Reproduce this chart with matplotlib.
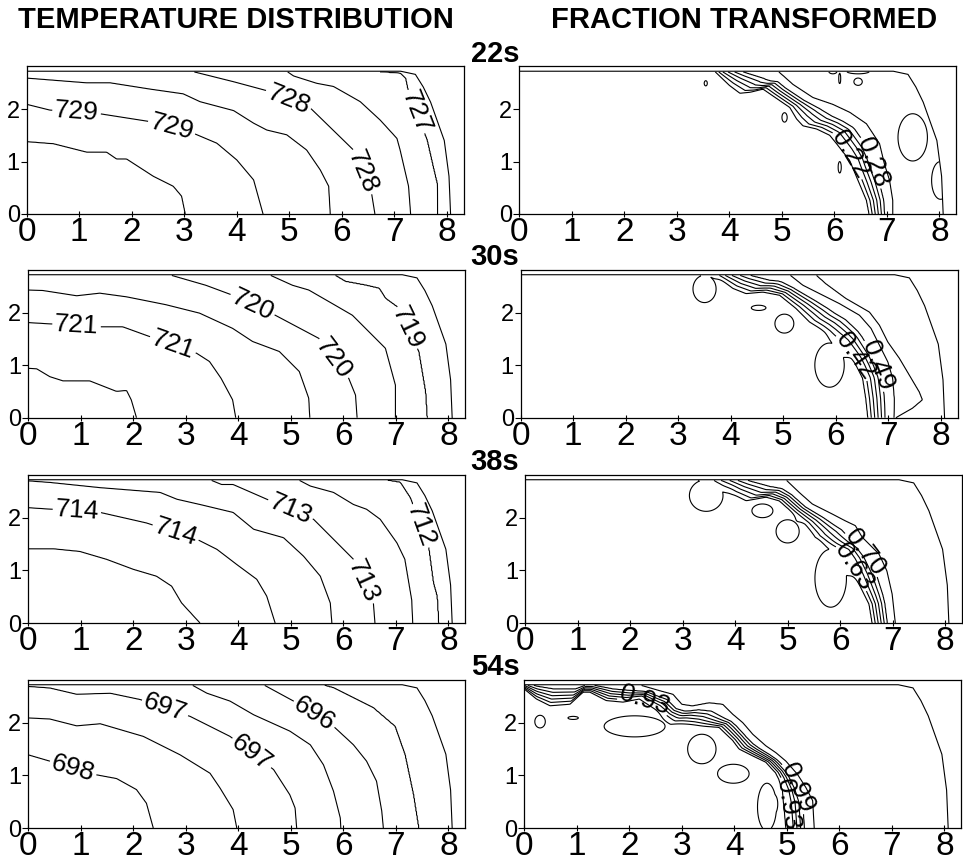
import numpy as np
import matplotlib
matplotlib.use("Agg")
import matplotlib.pyplot as plt
from matplotlib import font_manager

# ---- geometry of the specimen outline (same in every panel) ----
OUT_X = [0.0, 7.12, 7.40, 7.55, 7.69, 7.95, 8.04, 8.07]
OUT_Y = [2.72, 2.72, 2.66, 2.42, 2.13, 1.40, 0.72, 0.0]

T22_LEVELS = [729.5, 729.0, 728.5, 728.0, 727.5, 727.0]
T22_X = [[0, 0.51, 1.14, 1.52, 1.71, 1.90, 2.41, 2.79, 2.95, 3.02],
         [0, 0.44, 1.33, 2.35, 3.17, 3.62, 4.00, 4.32, 4.50],
         [0, 1.14, 1.59, 2.35, 2.98, 3.30, 3.94, 4.32, 4.57, 4.95, 5.33, 5.59, 5.75, 5.78],
         [3.14, 3.94, 4.57, 5.40, 6.22, 6.57, 6.63],
         [4.95, 5.08, 5.52, 5.84, 6.35, 6.73, 7.05, 7.11, 7.27, 7.31],
         [6.54, 7.11, 7.21, 7.27, 7.62, 7.75, 7.81, 7.82]]
T22_Y = [[1.38, 1.34, 1.18, 1.18, 1.05, 1.05, 0.72, 0.53, 0.34, 0],
         [2.09, 1.98, 1.92, 1.76, 1.54, 1.35, 1.03, 0.65, 0],
         [2.59, 2.50, 2.50, 2.38, 2.29, 2.14, 1.97, 1.73, 1.60, 1.51, 1.22, 0.84, 0.53, 0],
         [2.72, 2.52, 2.35, 2.02, 1.22, 0.37, 0],
         [2.72, 2.63, 2.49, 2.43, 2.14, 1.79, 1.44, 1.22, 0.53, 0],
         [2.72, 2.68, 2.59, 2.30, 1.41, 0.84, 0.59, 0]]
T22_LABELS = [727.0, 728.0, 729.0]
T22_LABPOS = [(0.95, 1.95), (2.76, 1.65), (4.98, 2.17), (6.41, 0.81), (7.43, 1.95)]

T30_LEVELS = [721.5, 721.0, 720.5, 720.0, 719.5, 719.0]
T30_X = [[0, 0.16, 0.41, 0.66, 1.17, 1.68, 1.87, 1.96, 2.06],
         [0, 1.36, 1.80, 2.24, 3.20, 3.45, 3.67, 3.89, 3.95],
         [0, 0.28, 0.92, 1.36, 1.87, 2.62, 3.26, 3.89, 4.27, 4.78, 5.16, 5.34, 5.36],
         [2.69, 3.38, 3.89, 4.70, 5.53, 6.10, 6.23, 6.26],
         [4.59, 5.03, 5.34, 5.79, 6.17, 6.42, 6.80, 6.99, 6.99],
         [5.82, 6.04, 6.42, 6.68, 6.80, 7.02, 7.43, 7.56, 7.59]]
T30_Y = [[0.94, 0.93, 0.78, 0.70, 0.70, 0.50, 0.52, 0.34, 0],
         [1.81, 1.73, 1.73, 1.57, 1.23, 1.07, 0.75, 0.34, 0],
         [2.43, 2.42, 2.32, 2.37, 2.30, 2.15, 1.99, 1.70, 1.45, 1.26, 0.88, 0.37, 0],
         [2.72, 2.52, 2.33, 1.95, 1.51, 0.75, 0.43, 0],
         [2.72, 2.52, 2.43, 2.17, 1.95, 1.70, 1.32, 0.62, 0],
         [2.72, 2.59, 2.52, 2.46, 2.27, 2.11, 1.26, 0.49, 0]]
T30_LABELS = [719.0, 720.0, 721.0]
T30_LABPOS = [(0.92, 1.77), (2.75, 1.38), (4.27, 2.15), (5.82, 1.13), (7.24, 1.73)]

T38_LEVELS = [714.5, 714.0, 713.5, 713.0, 712.5, 712.0]
T38_X = [[0, 0.48, 0.98, 1.49, 2.00, 2.44, 2.73, 2.92, 3.27],
         [0, 1.37, 2.25, 3.21, 3.59, 3.97, 4.35, 4.54, 4.70],
         [0, 0.41, 1.37, 2.51, 2.83, 3.27, 3.90, 4.29, 4.54, 4.86, 5.24, 5.56, 5.75, 5.78],
         [3.46, 3.68, 3.90, 4.54, 5.43, 6.19, 6.57, 6.60],
         [5.14, 5.37, 5.81, 6.19, 6.44, 6.70, 7.02, 7.17, 7.30, 7.32],
         [6.76, 7.08, 7.27, 7.62, 7.71, 7.78, 7.81]]
T38_Y = [[1.41, 1.41, 1.36, 1.21, 1.02, 0.89, 0.70, 0.38, 0],
         [2.19, 2.10, 1.90, 1.59, 1.40, 1.11, 0.83, 0.51, 0],
         [2.70, 2.67, 2.57, 2.48, 2.35, 2.25, 2.10, 1.78, 1.71, 1.62, 1.27, 0.89, 0.38, 0],
         [2.72, 2.63, 2.63, 2.35, 1.97, 1.21, 0.38, 0],
         [2.72, 2.60, 2.48, 2.25, 2.16, 1.97, 1.52, 1.21, 0.44, 0],
         [2.72, 2.67, 2.38, 1.43, 0.76, 0.51, 0]]
T38_LABELS = [712.0, 713.0, 714.0]
T38_LABPOS = [(0.92, 2.06), (2.79, 1.66), (4.98, 2.13), (6.38, 0.79), (7.43, 1.84)]

T54_LEVELS = [698.0, 697.5, 697.0, 696.5, 696.0, 695.5]
T54_X = [[0, 1.30, 1.68, 2.06, 2.25, 2.38],
         [0, 0.41, 0.92, 1.37, 2.19, 2.89, 3.46, 3.65, 3.90, 3.97],
         [0, 0.41, 0.92, 1.56, 2.13, 3.08, 3.84, 4.67, 4.98, 5.08, 5.11],
         [3.11, 3.40, 3.84, 4.29, 4.98, 5.37, 5.62, 5.81, 5.94, 5.95],
         [4.48, 5.05, 5.81, 6.19, 6.44, 6.63, 6.73, 6.76],
         [5.59, 5.81, 6.13, 6.57, 6.98, 7.17, 7.33, 7.43]]
T54_Y = [[1.39, 1.01, 0.94, 0.73, 0.47, 0],
         [2.09, 2.07, 1.94, 1.98, 1.74, 1.39, 1.04, 0.76, 0.35, 0],
         [2.69, 2.66, 2.54, 2.56, 2.44, 2.12, 1.74, 1.11, 0.63, 0.38, 0],
         [2.72, 2.56, 2.41, 2.15, 1.84, 1.58, 1.20, 0.70, 0.19, 0],
         [2.72, 2.41, 1.93, 1.58, 1.27, 0.89, 0.32, 0],
         [2.72, 2.66, 2.50, 2.28, 1.93, 1.39, 0.63, 0]]
T54_LABELS = [696.0, 697.0, 698.0]
T54_LABPOS = [(0.86, 1.16), (2.60, 2.27), (4.25, 1.42), (5.43, 2.14)]

# ---- fraction transformed: front band (inner / outer edge), blobs ----
BAND_FRACS = [0.0, 0.13, 0.26, 0.39, 0.52, 0.65, 1.0]

F22_LEVELS = [0.205, 0.22, 0.235, 0.25, 0.265, 0.28, 0.295]
F22_IN_X = [3.72, 4.0, 4.2, 4.4, 4.64, 4.96, 5.15, 5.28, 5.40, 5.66, 5.91, 6.04, 6.29, 6.45, 6.61, 6.66]
F22_IN_Y = [2.72, 2.45, 2.30, 2.32, 2.38, 2.16, 2.03, 1.81, 1.68, 1.62, 1.50, 1.34, 1.02, 0.64, 0.26, 0]
F22_OUT_X = [4.93, 5.21, 5.59, 5.97, 6.29, 6.61, 6.86, 6.95, 7.05, 7.11, 7.11]
F22_OUT_Y = [2.72, 2.47, 2.22, 2.09, 1.94, 1.72, 1.34, 0.96, 0.64, 0.26, 0]
F22_EXTRA = []
# blob: centre x, centre y, half width, half height, sign
F22_BLOBS = [(3.55, 2.49, 0.03, 0.05, 1), (5.05, 1.84, 0.05, 0.09, 1),
             (6.10, 0.89, 0.03, 0.11, 1), (6.10, 2.58, 0.02, 0.10, -1),
             (6.45, 2.52, 0.08, 0.07, -1), (5.97, 2.72, 0.08, 0.05, -1),
             (6.45, 2.72, 0.22, 0.05, -1), (7.49, 1.46, 0.28, 0.45, -1),
             (8.02, 0.64, 0.17, 0.36, -1)]
F22_LABELS = [0.22, 0.28]
F22_LABPOS = [(6.26, 1.11), (6.76, 0.99)]

F30_LEVELS = [0.4025, 0.42, 0.4375, 0.455, 0.4725, 0.49, 0.5075, 0.525]
F30_IN_X = [3.69, 4.04, 4.29, 4.61, 4.93, 5.24, 5.50, 5.81, 6.07, 6.32, 6.51, 6.57, 6.61]
F30_IN_Y = [2.72, 2.46, 2.36, 2.39, 2.33, 2.08, 1.82, 1.63, 1.44, 1.13, 0.75, 0.37, 0]
F30_OUT_X = [5.12, 5.37, 5.75, 6.07, 6.45, 6.67, 6.83, 6.99, 7.08, 7.11, 7.11]
F30_OUT_Y = [2.72, 2.52, 2.33, 2.17, 1.95, 1.70, 1.38, 1.06, 0.75, 0.37, 0]
F30_EXTRA = [([5.62, 5.81, 6.19, 6.64, 6.83, 6.99, 7.21, 7.40, 7.59, 7.65, 7.46, 7.14],
              [2.72, 2.55, 2.27, 2.01, 1.76, 1.44, 1.13, 0.81, 0.49, 0.34, 0.18, 0])]
F30_BLOBS = [(3.50, 2.45, 0.22, 0.26, 1), (4.53, 2.09, 0.14, 0.05, 1),
             (5.02, 1.79, 0.18, 0.18, 1), (5.88, 1.00, 0.28, 0.42, 1)]
F30_LABELS = [0.42, 0.49]
F30_LABPOS = [(6.19, 1.03), (6.73, 0.97)]

F38_LEVELS = [0.6125, 0.63, 0.6475, 0.665, 0.6825, 0.70, 0.7175]
F38_IN_X = [3.57, 3.70, 3.95, 4.21, 4.59, 4.84, 5.09, 5.34, 5.53, 5.79, 6.04, 6.17, 6.36, 6.55, 6.61]
F38_IN_Y = [2.72, 2.64, 2.45, 2.32, 2.39, 2.32, 2.10, 1.88, 1.63, 1.50, 1.37, 1.12, 0.74, 0.36, 0]
F38_OUT_X = [4.97, 5.22, 5.47, 5.85, 6.10, 6.29, 6.42, 6.74, 6.89, 6.99, 7.05]
F38_OUT_Y = [2.72, 2.48, 2.26, 2.07, 1.94, 1.85, 1.63, 1.31, 0.99, 0.55, 0]
F38_EXTRA = []
F38_BLOBS = [(3.45, 2.42, 0.32, 0.30, 1), (4.52, 2.13, 0.20, 0.13, 1),
             (5.00, 1.74, 0.22, 0.22, 1), (5.82, 0.85, 0.30, 0.55, 1)]
F38_LABELS = [0.63, 0.70]
F38_LABPOS = [(6.29, 1.09), (6.61, 1.44)]

F54_LEVELS = [0.915, 0.93, 0.945, 0.96, 0.975, 0.99, 1.005]
F54_IN_X = [0, 0.23, 0.49, 0.87, 1.12, 1.25, 1.56, 1.88, 2.19, 2.50, 2.83, 3.14, 3.71, 3.97,
            4.09, 4.35, 4.60, 4.79, 4.85, 4.92, 4.98]
F54_IN_Y = [2.64, 2.45, 2.32, 2.35, 2.58, 2.58, 2.42, 2.39, 2.45, 2.25, 2.00, 1.97, 1.91, 1.66,
            1.50, 1.37, 1.25, 1.05, 0.93, 0.71, 0]
F54_OUT_X = [2.19, 2.57, 2.83, 3.00, 3.20, 3.52, 3.78, 3.97, 4.16, 4.35, 4.60, 4.79, 4.98,
             5.20, 5.36, 5.49, 5.52]
F54_OUT_Y = [2.72, 2.61, 2.54, 2.35, 2.32, 2.38, 2.35, 2.16, 2.00, 1.78, 1.56, 1.43, 1.27,
             1.02, 0.77, 0.52, 0]
F54_EXTRA = []
F54_BLOBS = [(0.30, 2.02, 0.10, 0.12, 1), (0.93, 2.09, 0.10, 0.03, 1),
             (2.10, 1.93, 0.58, 0.20, 1), (3.38, 1.50, 0.27, 0.28, 1),
             (3.98, 1.03, 0.30, 0.18, 1), (4.62, 0.40, 0.18, 0.45, 1)]
F54_LABELS = [0.93, 0.99]
F54_LABPOS = [(2.23, 2.35), (5.38, 0.85), (5.02, 0.45)]

TIMES = ["22s", "30s", "38s", "54s"]

# ---- layout (pixels of the 963x863 figure) ----
W, H = 963, 863
LEFT_X0 = [26.7, 28.3, 28.3, 28.3]
RIGHT_X0 = [519.3, 520.7, 525.0, 524.3]
ROW_TOP = [66.5, 270.0, 475.0, 680.0]
ROW_BOT = [214.0, 417.7, 623.0, 828.0]
AX_W = 437.0

names = {f.name for f in font_manager.fontManager.ttflist}
NARROW = "Liberation Sans Narrow" if "Liberation Sans Narrow" in names else "Liberation Sans"
plt.rcParams["font.family"] = [NARROW, "DejaVu Sans"]

XN, YN = 8.07, 2.72
TH_GRID = np.linspace(0, np.pi / 2, 721)
gx = np.linspace(0, XN, 620)
gy = np.linspace(0, YN, 210)
X, Y = np.meshgrid(gx, gy)
TH = np.arctan2(Y / YN, X / XN)
R = np.hypot(X / XN, Y / YN)
MASK = X > np.interp(Y, OUT_Y[::-1], OUT_X[::-1]) + 1e-9


def dense(xs, ys, n=30):
    xs, ys = np.asarray(xs, float), np.asarray(ys, float)
    t = np.linspace(0, len(xs) - 1, (len(xs) - 1) * n + 1)
    k = np.arange(len(xs))
    return np.interp(t, k, xs), np.interp(t, k, ys)


def curve_r(xs, ys):
    x, y = dense(xs, ys)
    th = np.arctan2(y / YN, x / XN)
    r = np.hypot(x / XN, y / YN)
    o = np.argsort(th, kind="stable")
    return np.interp(TH_GRID, th[o], r[o])


def blend(rcurves, levels):
    rc = np.maximum.accumulate(np.array(rcurves), axis=0)
    n = len(rc)
    rc = rc + np.arange(n)[:, None] * 1e-6
    rr = np.array([np.interp(TH, TH_GRID, c) for c in rc])
    idx = np.clip((R[None] > rr).sum(axis=0), 1, n - 1)
    r0 = np.take_along_axis(rr, idx[None] - 1, 0)[0]
    r1 = np.take_along_axis(rr, idx[None], 0)[0]
    lv = np.asarray(levels, float)
    w = np.clip((R - r0) / (r1 - r0), 0, 1)
    return lv[idx - 1] + w * (lv[idx] - lv[idx - 1])


def temp_field(xs_list, ys_list, levels):
    step = levels[0] - levels[1]
    rc = [np.zeros_like(TH_GRID)] + [curve_r(x, y) for x, y in zip(xs_list, ys_list)]
    rc.append(np.full_like(TH_GRID, 3.0))
    lv = [levels[0] + step] + list(levels) + [levels[-1] - step]
    return blend(rc, lv)


def frac_field(inner, outer, extra, levels, blobs, d=0.02):
    step = levels[1] - levels[0]
    r_in = curve_r(*inner)
    r_out = curve_r(*outer)
    band = [r_in + t * (r_out - r_in) for t in BAND_FRACS]
    band += [curve_r(*c) for c in extra]
    lo, hi = levels[0] - step, levels[-1] + step
    rc = [np.zeros_like(TH_GRID), r_in - d] + band + [band[-1] + d, np.full_like(TH_GRID, 3.0)]
    lv = [lo, lo] + list(levels) + [hi, hi]
    f = blend(rc, lv)
    for cx, cy, hx, hy, s in blobs:
        q = ((X - cx) / hx) ** 2 + ((Y - cy) / hy) ** 2
        f = f + s * 1.5 * step * np.exp(-np.log(1.5) * q ** 2)
    return f


def draw_contours(ax, Z, levels, labels, labpos, fmt):
    plain = sorted(l for l in levels if l not in labels)
    ax.contour(X, Y, Z, levels=plain, colors="k", linewidths=0.8)
    cs = ax.contour(X, Y, Z, levels=sorted(labels), colors="k", linewidths=0.8)
    ax.clabel(cs, fmt=fmt, manual=labpos, inline=True, inline_spacing=3, fontsize=19)


def style_axes(ax):
    ax.set_xlim(0, 8.32)
    ax.set_ylim(0, 2.81)
    ax.set_xticks(range(9))
    ax.set_yticks([0, 1, 2])
    ax.tick_params(axis="x", direction="inout", length=5, width=0.8, pad=0, labelsize=24)
    ax.tick_params(axis="y", direction="out", length=4, width=0.8, pad=1, labelsize=17)
    for lab in ax.get_yticklabels():
        lab.set_family("Liberation Sans")
    for sp in ax.spines.values():
        sp.set_linewidth(0.9)
    ax.plot(OUT_X, OUT_Y, color="k", lw=0.8)


fig = plt.figure(figsize=(W / 100, H / 100), dpi=100)

temps = [(T22_X, T22_Y, T22_LEVELS, T22_LABELS, T22_LABPOS),
         (T30_X, T30_Y, T30_LEVELS, T30_LABELS, T30_LABPOS),
         (T38_X, T38_Y, T38_LEVELS, T38_LABELS, T38_LABPOS),
         (T54_X, T54_Y, T54_LEVELS, T54_LABELS, T54_LABPOS)]
fracs = [((F22_IN_X, F22_IN_Y), (F22_OUT_X, F22_OUT_Y), F22_EXTRA, F22_LEVELS, F22_BLOBS, F22_LABELS, F22_LABPOS),
         ((F30_IN_X, F30_IN_Y), (F30_OUT_X, F30_OUT_Y), F30_EXTRA, F30_LEVELS, F30_BLOBS, F30_LABELS, F30_LABPOS),
         ((F38_IN_X, F38_IN_Y), (F38_OUT_X, F38_OUT_Y), F38_EXTRA, F38_LEVELS, F38_BLOBS, F38_LABELS, F38_LABPOS),
         ((F54_IN_X, F54_IN_Y), (F54_OUT_X, F54_OUT_Y), F54_EXTRA, F54_LEVELS, F54_BLOBS, F54_LABELS, F54_LABPOS)]

for i in range(4):
    hgt = (ROW_BOT[i] - ROW_TOP[i]) / H
    bot = 1 - ROW_BOT[i] / H

    # temperature distribution
    ax = fig.add_axes([LEFT_X0[i] / W, bot, AX_W / W, hgt])
    xs, ys, lev, labs, labpos = temps[i]
    T = np.ma.array(temp_field(xs, ys, lev), mask=MASK)
    draw_contours(ax, T, lev, labs, labpos, "%d")
    style_axes(ax)

    # fraction transformed
    ax = fig.add_axes([RIGHT_X0[i] / W, bot, AX_W / W, hgt])
    inner, outer, extra, lev, blobs, labs, labpos = fracs[i]
    F = np.ma.array(frac_field(inner, outer, extra, lev, blobs), mask=MASK)
    draw_contours(ax, F, lev, labs, labpos, "%.2f")
    style_axes(ax)

    fig.text(495 / W, 1 - (ROW_TOP[i] - 13) / H, TIMES[i], ha="center", va="center",
             fontsize=21, fontweight="bold", family="Liberation Sans")

fig.text(236 / W, 1 - 20 / H, "TEMPERATURE DISTRIBUTION", ha="center", va="center",
         fontsize=21, fontweight="bold", family="Liberation Sans")
fig.text(744 / W, 1 - 20 / H, "FRACTION TRANSFORMED", ha="center", va="center",
         fontsize=21, fontweight="bold", family="Liberation Sans")

fig.savefig("out.png", dpi=100)
